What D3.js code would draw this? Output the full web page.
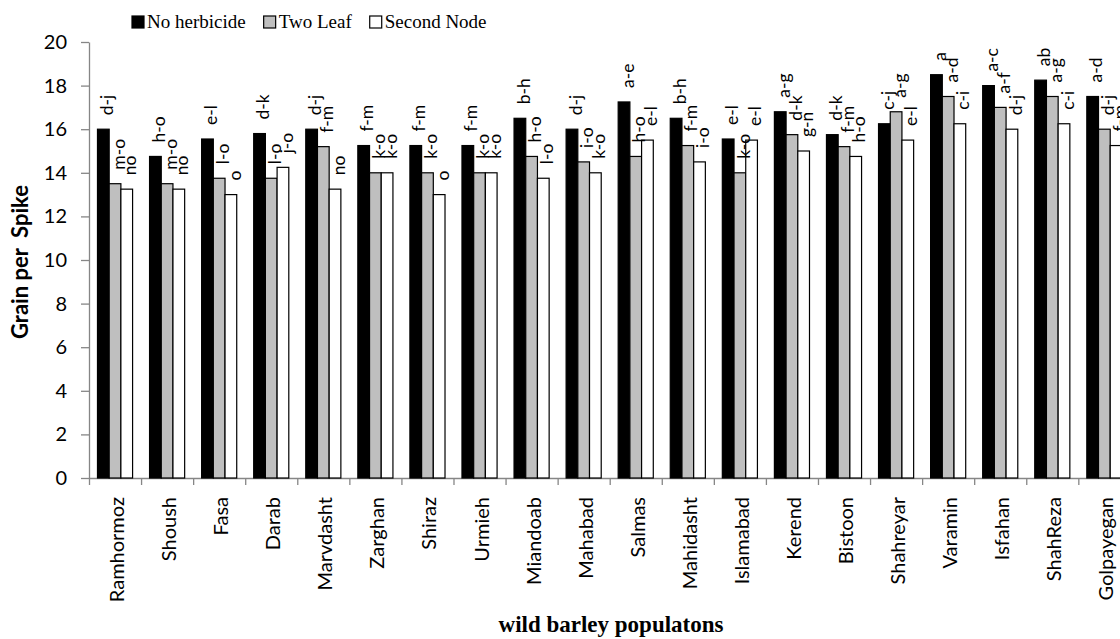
<!DOCTYPE html>
<html>
<head>
<meta charset="utf-8">
<script src="https://cdn.jsdelivr.net/npm/d3@7/dist/d3.min.js"></script>
<style>
  body { margin: 0; background: #fff; overflow: hidden; }
</style>
</head>
<body>
<div id="my_dataviz"></div>
<script>
// populations on the x axis
const populations = ["Ramhormoz", "Shoush", "Fasa", "Darab", "Marvdasht", "Zarghan", "Shiraz", "Urmieh",
  "Miandoab", "Mahabad", "Salmas", "Mahidasht", "Islamabad", "Kerend", "Bistoon", "Shahreyar",
  "Varamin", "Isfahan", "ShahReza", "Golpayegan"];

const seriesNames = ["No herbicide", "Two Leaf", "Second Node"];

// grain per spike
const noHerbicide = [16.0, 14.75, 15.55, 15.8, 16.0, 15.25, 15.25, 15.25, 16.5, 16.0,
  17.25, 16.5, 15.55, 16.8, 15.75, 16.25, 18.5, 18.0, 18.25, 17.5];
const twoLeaf = [13.5, 13.5, 13.75, 13.75, 15.2, 14.0, 14.0, 14.0, 14.75, 14.5,
  14.75, 15.25, 14.0, 15.75, 15.2, 16.8, 17.5, 17.0, 17.5, 16.0];
const secondNode = [13.25, 13.25, 13.0, 14.25, 13.25, 14.0, 13.0, 14.0, 13.75, 14.0,
  15.5, 14.5, 15.5, 15.0, 14.75, 15.5, 16.25, 16.0, 16.25, 15.25];

// mean comparison letters
const noHerbicideLetters = ["d-j", "h-o", "e-l", "d-k", "d-j", "f-m", "f-m", "f-m", "b-h", "d-j",
  "a-e", "b-h", "e-l", "a-g", "d-k", "c-j", "a", "a-c", "ab", "a-d"];
const twoLeafLetters = ["m-o", "m-o", "l-o", "l-o", "f-m", "k-o", "k-o", "k-o", "h-o", "i-o",
  "h-o", "f-m", "k-o", "d-k", "f-m", "a-g", "a-d", "a-f", "a-g", "d-j"];
const secondNodeLetters = ["no", "no", "o", "j-o", "no", "k-o", "o", "k-o", "l-o", "k-o",
  "e-l", "i-o", "e-l", "g-n", "h-o", "e-l", "c-i", "d-j", "c-i", "f-m"];

const yTicks = [0, 2, 4, 6, 8, 10, 12, 14, 16, 18, 20];

const width = 1120, height = 639;
const margin = {top: 42, left: 89, bottom: 161};
const step = 52.07;
const colors = ["#000000", "#bfbfbf", "#ffffff"];
const axisColor = "#868686";
const sansFont = "Lato, 'Open Sans', sans-serif";
const serifFont = "'Liberation Serif', 'Times New Roman', serif";

const svg = d3.select("#my_dataviz")
  .append("svg")
    .attr("width", width)
    .attr("height", height)
    .style("display", "block");

const plotBottom = height - margin.bottom;

// scales
const x = d3.scaleBand()
  .domain(populations)
  .range([margin.left, margin.left + populations.length * step]);

const xSub = d3.scaleBand()
  .domain(seriesNames)
  .range([0, x.bandwidth()])
  .paddingInner(0)
  .paddingOuter(0.725);

const y = d3.scaleLinear()
  .domain([0, 20])
  .range([plotBottom, margin.top]);

const color = d3.scaleOrdinal()
  .domain(seriesNames)
  .range(colors);

// table built from the arrays
const values = [noHerbicide, twoLeaf, secondNode];
const letters = [noHerbicideLetters, twoLeafLetters, secondNodeLetters];
const data = populations.map((p, i) => ({
  group: p,
  bars: seriesNames.map((s, j) => ({key: s, value: values[j][i], label: letters[j][i]}))
}));

// Y axis
const yAxis = svg.append("g")
  .attr("transform", `translate(${margin.left},0)`)
  .call(d3.axisLeft(y).tickValues(yTicks).tickSize(8).tickSizeOuter(0).tickPadding(14));
yAxis.select(".domain").attr("stroke", axisColor).attr("stroke-width", 1.3);
yAxis.selectAll(".tick line").attr("stroke", axisColor).attr("stroke-width", 1.3);
yAxis.selectAll(".tick text")
  .attr("fill", "#000")
  .style("font-family", sansFont)
  .style("font-size", "20px");

// X axis: labels under each group
const xAxis = svg.append("g")
  .attr("transform", `translate(0,${plotBottom})`)
  .call(d3.axisBottom(x).tickSize(0).tickSizeOuter(0));
xAxis.select(".domain").attr("stroke", axisColor).attr("stroke-width", 1.3);
xAxis.selectAll(".tick text")
  .attr("transform", "rotate(-90)")
  .attr("x", -19)
  .attr("y", 0)
  .attr("dy", "0.45em")
  .attr("text-anchor", "end")
  .attr("fill", "#000")
  .style("font-family", sansFont)
  .style("font-size", "20px");

// tick marks between the groups
const xBoundary = d3.scaleLinear()
  .domain([0, populations.length])
  .range(x.range());
const xTicks = svg.append("g")
  .attr("transform", `translate(0,${plotBottom})`)
  .call(d3.axisBottom(xBoundary).tickValues(d3.range(populations.length + 1)).tickFormat("").tickSize(7).tickSizeOuter(0));
xTicks.select(".domain").remove();
xTicks.selectAll(".tick line").attr("stroke", axisColor).attr("stroke-width", 1.3);

// bars
const groups = svg.append("g")
  .selectAll("g")
  .data(data)
  .join("g")
    .attr("transform", d => `translate(${x(d.group)},0)`);

groups.selectAll("rect")
  .data(d => d.bars)
  .join("rect")
    .attr("x", d => xSub(d.key))
    .attr("y", d => y(d.value))
    .attr("width", xSub.bandwidth())
    .attr("height", d => plotBottom - y(d.value))
    .attr("fill", d => color(d.key))
    .attr("stroke", "#000")
    .attr("stroke-width", 1.2);

// letters above the bars (the last one runs off the right edge, as in the original)
groups.selectAll("text")
  .data(d => d.bars)
  .join("text")
    .attr("transform", d => `translate(${xSub(d.key) + xSub.bandwidth() / 2},${y(d.value) - 14}) rotate(-90)`)
    .attr("dy", "0.55em")
    .attr("text-anchor", "start")
    .style("font-family", sansFont)
    .style("font-size", "17.5px")
    .text(d => d.label);

// axis titles
svg.append("text")
  .attr("transform", `translate(28,262) rotate(-90)`)
  .attr("text-anchor", "middle")
  .style("font-family", sansFont)
  .style("font-size", "22px")
  .style("font-weight", "bold")
  .style("white-space", "pre")
  .text("Grain per  Spike");

svg.append("text")
  .attr("x", 611)
  .attr("y", 632)
  .attr("text-anchor", "middle")
  .style("font-family", serifFont)
  .style("font-size", "23px")
  .style("font-weight", "bold")
  .text("wild barley populatons");

// legend
const legend = svg.append("g").attr("transform", "translate(132,16)");
let lx = 0;
seriesNames.forEach((name, i) => {
  const item = legend.append("g").attr("transform", `translate(${lx},0)`);
  item.append("rect")
    .attr("width", 12)
    .attr("height", 12)
    .attr("fill", color(name))
    .attr("stroke", "#000")
    .attr("stroke-width", 1.2);
  const t = item.append("text")
    .attr("x", 15)
    .attr("y", 12.3)
    .style("font-family", serifFont)
    .style("font-size", "19px")
    .text(name);
  lx += 15 + t.node().getComputedTextLength() + 18;
});
</script>
</body>
</html>
